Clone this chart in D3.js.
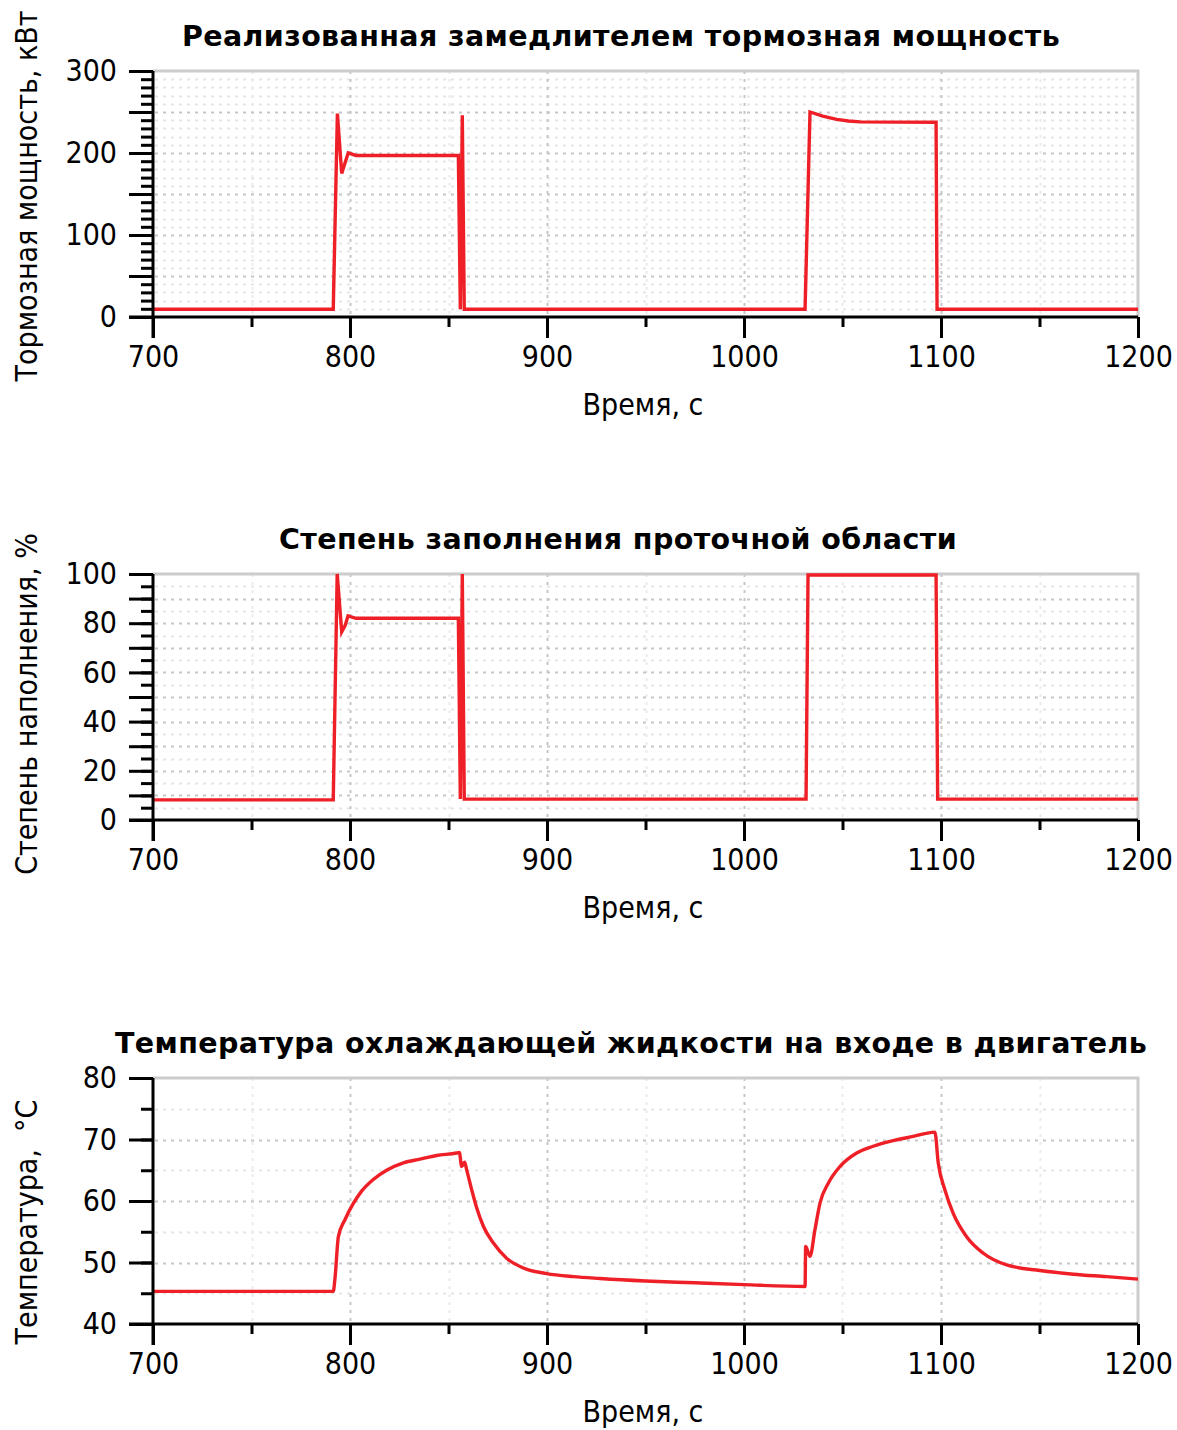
<!DOCTYPE html>
<html>
<head>
<meta charset="utf-8">
<script src="https://cdn.jsdelivr.net/npm/d3@7"></script>
<style>
  body { margin: 0; background: #fff; }
  svg { display: block; }
  text { font-family: "DejaVu Sans Condensed", "DejaVu Sans", sans-serif; fill: #000; }
</style>
</head>
<body>
<div id="chart"></div>
<script>
// time axis
const timeDomain = [700, 1200];
const timeTicks = [700, 800, 900, 1000, 1100, 1200];

// braking power, kW
const powerTime = [700, 791.5, 793.6, 795.8, 797.5, 799.1, 803, 855, 856, 857, 858,
    1031, 1033.5, 1040, 1047, 1053, 1059, 1097.5, 1098, 1200];
const powerValue = [9.5, 9.5, 248, 175, 188, 200, 197, 197, 9.5, 246, 9.5,
    9.5, 250, 245, 241, 239, 238, 237.5, 9.5, 9.5];
const powerTicks = [0, 100, 200, 300];

// filling degree, %
const fillTime = [700, 791.5, 793.5, 795.8, 797.5, 799, 803, 855, 856, 857, 858,
    1031.5, 1032.5, 1097.5, 1098.3, 1200];
const fillValue = [8.2, 8.2, 100, 76.5, 79, 83, 82, 82, 8.5, 100, 8.5,
    8.5, 99.6, 99.6, 8.5, 8.5];
const fillTicks = [0, 20, 40, 60, 80, 100];

// coolant temperature at engine inlet, °C
const tempTime = [700, 791.5, 792.4, 794.1, 797.5, 801.7, 805.9, 811.8, 818.6, 827.1, 835.5, 844,
    854.1, 855.5, 856.7, 858.2, 859.2, 861.8, 864.3, 867.7, 872.7, 879.5, 888, 899.8, 913.4, 926.9,
    950, 975, 1000, 1031, 1031.3, 1033.5, 1036, 1038.6, 1042.8, 1048.7, 1057.2, 1065.6, 1074.1,
    1085.9, 1096.9, 1098.6, 1102, 1106.2, 1113, 1121.5, 1133.3, 1150.3, 1167.2, 1184.1, 1200];
const tempValue = [45.3, 45.3, 47.5, 54.2, 57.0, 59.6, 61.6, 63.5, 65.0, 66.2, 66.8, 67.4,
    67.8, 67.9, 65.6, 66.3, 65.1, 61.8, 58.9, 55.9, 53.2, 50.7, 49.1, 48.2, 47.7, 47.4,
    47.0, 46.7, 46.4, 46.1, 52.6, 51.0, 55.3, 59.7, 62.9, 65.6, 67.8, 68.9, 69.7,
    70.5, 71.2, 66.2, 61.8, 58.0, 54.2, 51.5, 49.6, 48.7, 48.1, 47.7, 47.3];
const tempTicks = [40, 50, 60, 70, 80];

const panels = [
    {title: "Реализованная замедлителем тормозная мощность", ylabel: "Тормозная мощность, кВт",
     time: powerTime, value: powerValue, domain: [0, 300], labels: powerTicks, major: 50, minor: 10,
     top: 71, title_x: 621, label_shift: 0, curve: d3.curveLinear},
    {title: "Степень заполнения проточной области", ylabel: "Степень наполнения, %",
     time: fillTime, value: fillValue, domain: [0, 100], labels: fillTicks, major: 10, minor: 5,
     top: 574, title_x: 618, label_shift: 5, curve: d3.curveLinear},
    {title: "Температура охлаждающей жидкости на входе в двигатель", ylabel: "Температура,  °С",
     time: tempTime, value: tempValue, domain: [40, 80], labels: tempTicks, major: 10, minor: 5,
     top: 1078, title_x: 631, label_shift: 19, curve: d3.curveMonotoneX}
];

const width = 1177, height = 1430;
const left = 153, right = 1138, plotH = 246;

const svg = d3.select("#chart").append("svg")
    .attr("width", width)
    .attr("height", height);

const x = d3.scaleLinear().domain(timeDomain).range([left, right]);

function range_step(domain, step) {
    return d3.range(domain[0], domain[1] + step / 2, step);
}

function grid_lines(g, data, cls, horizontal, y, top, bottom, color) {
    const pos = d => Math.round(horizontal ? y(d) : x(d)) + 0.5;
    g.selectAll("." + cls).data(data).enter().append("line")
        .attr("class", cls)
        .attr("x1", d => horizontal ? left + 2 : pos(d))
        .attr("x2", d => horizontal ? right : pos(d))
        .attr("y1", d => horizontal ? pos(d) : top)
        .attr("y2", d => horizontal ? pos(d) : bottom)
        .attr("stroke", color).attr("stroke-width", 2).attr("stroke-dasharray", "3,5");
}

panels.forEach(function(p) {
    const g = svg.append("g");
    const y = d3.scaleLinear().domain(p.domain).range([p.top + plotH, p.top]);
    const bottom = p.top + plotH;

    // grid - light minor, darker major
    const minorY = range_step(p.domain, p.minor).filter(v => v % p.major != 0);
    const majorY = range_step(p.domain, p.major).filter(v => v != p.domain[0] && v != p.domain[1]);
    const minorX = range_step(timeDomain, 50).filter(v => v % 100 != 0);
    const majorX = range_step(timeDomain, 100).filter(v => v != timeDomain[0] && v != timeDomain[1]);

    grid_lines(g, minorY, "gy-minor", true, y, p.top, bottom, "#e6e6e6");
    grid_lines(g, minorX, "gx-minor", false, y, p.top, bottom, "#ebebeb");
    grid_lines(g, majorY, "gy-major", true, y, p.top, bottom, "#c6c6c6");
    grid_lines(g, majorX, "gx-major", false, y, p.top, bottom, "#c6c6c6");

    // frame top and right
    g.append("path")
        .attr("d", `M${left},${p.top}H${right}V${bottom}`)
        .attr("fill", "none").attr("stroke", "#cccccc").attr("stroke-width", 3);

    // data line
    const pts = p.time.map((t, i) => [t, p.value[i]]);
    g.append("path")
        .datum(pts)
        .attr("fill", "none")
        .attr("stroke", "#ee1f26")
        .attr("stroke-width", 3.4)
        .attr("stroke-linejoin", "miter")
        .attr("d", d3.line().curve(p.curve).x(d => x(d[0])).y(d => y(d[1])));

    // x axis
    const xMinor = d3.axisBottom(x).tickValues(range_step(timeDomain, 50)).tickSize(10).tickFormat("");
    const xMajor = d3.axisBottom(x).tickValues(timeTicks).tickSize(21).tickPadding(8).tickFormat(d3.format("d"));
    [xMinor, xMajor].forEach(function(ax) {
        const a = g.append("g").attr("transform", `translate(0,${bottom})`).call(ax);
        a.select(".domain").remove();
        a.selectAll("line").attr("stroke", "#000").attr("stroke-width", 3);
        a.selectAll("text").attr("font-size", 30);
    });

    // y axis
    const yMinor = d3.axisLeft(y).tickValues(range_step(p.domain, p.minor)).tickSize(12).tickFormat("");
    const yMajor = d3.axisLeft(y).tickValues(range_step(p.domain, p.major)).tickSize(24)
        .tickPadding(12).tickFormat(d => p.labels.includes(d) ? d : "");
    [yMinor, yMajor].forEach(function(ax) {
        const a = g.append("g").attr("transform", `translate(${left},0)`).call(ax);
        a.select(".domain").remove();
        a.selectAll("line").attr("stroke", "#000").attr("stroke-width", 3);
        a.selectAll("text").attr("font-size", 30);
    });

    // axis lines
    g.append("line").attr("x1", left - 24).attr("x2", right)
        .attr("y1", bottom).attr("y2", bottom)
        .attr("stroke", "#000").attr("stroke-width", 3);
    g.append("line").attr("x1", left).attr("x2", left)
        .attr("y1", p.top).attr("y2", bottom + 21)
        .attr("stroke", "#000").attr("stroke-width", 3);

    // texts
    g.append("text")
        .attr("x", p.title_x).attr("y", p.top - 25)
        .attr("text-anchor", "middle")
        .attr("font-size", 28.5).attr("font-weight", "bold")
        .style("font-family", "'DejaVu Sans', sans-serif")
        .style("letter-spacing", "0.4px")
        .text(p.title);
    g.append("text")
        .attr("x", 643).attr("y", bottom + 98)
        .attr("text-anchor", "middle")
        .attr("font-size", 30)
        .text("Время, с");
    g.append("text")
        .attr("transform", `translate(37,${p.top + plotH / 2 + 2 + p.label_shift}) rotate(-90)`)
        .attr("text-anchor", "middle")
        .attr("font-size", 30)
        .style("white-space", "pre")
        .text(p.ylabel);
});
</script>
</body>
</html>
